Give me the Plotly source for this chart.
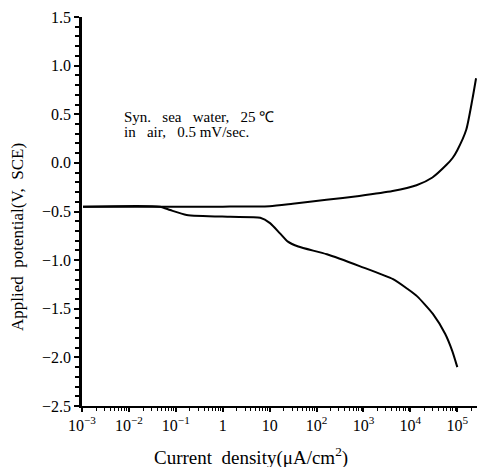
import plotly.graph_objects as go

# Anodic (upper) branch: current density (uA/cm2) and potential (V vs SCE)
anodic_current = [1.05e-3, 0.032, 1.0, 10, 31, 162, 813, 4170, 13500, 29500, 58900, 79400, 100000, 155000, 209000, 251000]
anodic_potential = [-0.45, -0.45, -0.45, -0.445, -0.42, -0.38, -0.34, -0.29, -0.23, -0.15, -0.02, 0.05, 0.13, 0.34, 0.65, 0.87]

# Cathodic (lower) branch
cathodic_current = [1.05e-3, 0.046, 0.076, 0.17, 1.45, 6.3, 10.2, 16.6, 24.5, 40.7, 166, 851, 4270, 8900, 13800, 30200, 55000, 77600, 100000]
cathodic_potential = [-0.45, -0.45, -0.485, -0.535, -0.555, -0.565, -0.62, -0.725, -0.81, -0.86, -0.94, -1.064, -1.196, -1.30, -1.37, -1.553, -1.757, -1.93, -2.10]

x_tick_vals = [1e-3, 1e-2, 1e-1, 1, 10, 1e2, 1e3, 1e4, 1e5]
x_tick_text = ["10<sup>−3</sup>", "10<sup>−2</sup>", "10<sup>−1</sup>", "1", "10",
               "10<sup>2</sup>", "10<sup>3</sup>", "10<sup>4</sup>", "10<sup>5</sup>"]
y_tick_vals = [1.5, 1.0, 0.5, 0.0, -0.5, -1.0, -1.5, -2.0, -2.5]
y_tick_text = ["1.5", "1.0", "0.5", "0.0", "−0.5", "−1.0", "−1.5", "−2.0", "−2.5"]

note_lines = ["Syn.   sea   water,   25 ℃", "in   air,   0.5 mV/sec."]

FONT = "Liberation Serif"

fig = go.Figure()
fig.add_trace(go.Scatter(x=anodic_current, y=anodic_potential, mode="lines",
                         line=dict(color="black", width=2, shape="spline", smoothing=0.6),
                         showlegend=False))
fig.add_trace(go.Scatter(x=cathodic_current, y=cathodic_potential, mode="lines",
                         line=dict(color="black", width=2, shape="spline", smoothing=0.6),
                         showlegend=False))

# page body has an 8px default margin, so the figure is sized/offset to compensate
OFF = 8
L, T = 82, 17          # plot-area left / top in page pixels
R, B = 477, 406        # plot-area right / bottom in page pixels
PW, PH = R - L, B - T
W, H = 486 - OFF, 467 - OFF


def px(xp):
    return (xp - L) / PW


def py(yp):
    return (B - yp) / PH


fig.update_layout(
    width=W, height=H,
    margin=dict(l=L - OFF, r=W - (R - OFF), t=T - OFF, b=H - (B - OFF), autoexpand=False),
    paper_bgcolor="white", plot_bgcolor="white",
    font=dict(family=FONT, size=15, color="black"),
    xaxis=dict(type="log", range=[-3, 5.42], tickvals=x_tick_vals, ticktext=x_tick_text,
               automargin=False, ticklabeloverflow="allow",
               showline=True, linecolor="black", linewidth=2, ticks="outside",
               ticklen=4, tickwidth=2, tickcolor="black", showgrid=False, zeroline=False,
               tickfont=dict(family=FONT, size=16),
               minor=dict(ticks="outside", ticklen=3, tickwidth=1, tickcolor="black",
                          dtick="D1", showgrid=False)),
    yaxis=dict(range=[-2.5, 1.5], tickvals=y_tick_vals, ticktext=y_tick_text,
               automargin=False, ticklabeloverflow="allow",
               showline=True, linecolor="black", linewidth=2.5, ticks="outside",
               ticklen=5, tickwidth=2, tickcolor="black", showgrid=False, zeroline=False,
               tickfont=dict(family=FONT, size=16),
               minor=dict(ticks="outside", ticklen=4, tickwidth=1.5, tickcolor="black",
                          dtick=0.1, showgrid=False)),
    annotations=[
        dict(text=note_lines[0],
             xref="paper", yref="paper", x=px(122), y=py(117),
             xanchor="left", yanchor="middle", align="left", showarrow=False,
             font=dict(size=15, family=FONT)),
        dict(text=note_lines[1],
             xref="paper", yref="paper", x=px(122), y=py(132),
             xanchor="left", yanchor="middle", align="left", showarrow=False,
             font=dict(size=15, family=FONT)),
        dict(text="Applied  potential(V,  SCE)", textangle=-90,
             xref="paper", yref="paper", x=px(17), y=py(237),
             xanchor="center", yanchor="middle", showarrow=False,
             font=dict(size=17, family=FONT)),
        dict(text="Current  density(μA/cm<sup>2</sup>)",
             xref="paper", yref="paper", x=px(251), y=py(456),
             xanchor="center", yanchor="middle", showarrow=False,
             font=dict(size=19, family=FONT)),
    ],
)

fig.write_html("out.html")
